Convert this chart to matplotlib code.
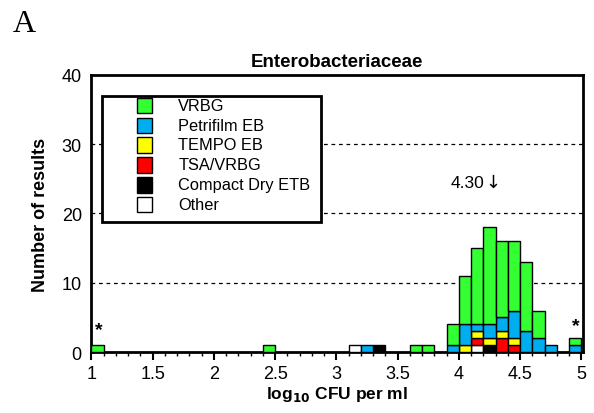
import matplotlib
matplotlib.use('Agg')
import matplotlib.pyplot as plt
from matplotlib.patches import Rectangle
from matplotlib.ticker import MultipleLocator
import numpy as np

plt.rcParams['font.family'] = ['Liberation Sans', 'DejaVu Sans']

# left edge of each occupied 0.1 log bin
bins = [1.0, 2.4, 3.1, 3.2, 3.3, 3.6, 3.7, 3.9, 4.0, 4.1, 4.2, 4.3, 4.4, 4.5, 4.6, 4.7, 4.9]

# counts per method, stacked bottom -> top
other     = [0, 0, 1, 0, 0, 0, 0, 0, 0, 1, 0, 0, 0, 0, 0, 0, 0]
compact   = [0, 0, 0, 0, 1, 0, 0, 0, 0, 0, 1, 0, 0, 0, 0, 0, 0]
tsa_vrbg  = [0, 0, 0, 0, 0, 0, 0, 0, 0, 1, 0, 2, 1, 0, 0, 0, 0]
tempo     = [0, 0, 0, 0, 0, 0, 0, 0, 1, 1, 1, 1, 1, 0, 0, 0, 0]
petrifilm = [0, 0, 0, 1, 0, 0, 0, 1, 3, 1, 2, 2, 4, 3, 2, 1, 1]
vrbg      = [1, 1, 0, 0, 0, 1, 1, 3, 7, 11, 14, 11, 10, 10, 4, 0, 1]

series = [
    ('Other', other, 'white'),
    ('Compact Dry ETB', compact, 'black'),
    ('TSA/VRBG', tsa_vrbg, '#FF0000'),
    ('TEMPO EB', tempo, '#FFFF00'),
    ('Petrifilm EB', petrifilm, '#00AEEF'),
    ('VRBG', vrbg, '#33FF33'),
]
legend_order = ['VRBG', 'Petrifilm EB', 'TEMPO EB', 'TSA/VRBG', 'Compact Dry ETB', 'Other']

fig = plt.figure(figsize=(5.94, 4.14), dpi=100)
ax = fig.add_axes([0.154, 0.147, 0.827, 0.670])

bottom = np.zeros(len(bins))
colors = {}
for name, vals, col in series:
    vals = np.array(vals)
    mask = vals > 0
    ax.bar(np.array(bins)[mask], vals[mask], width=0.1, align='edge',
           bottom=bottom[mask], color=col, edgecolor='black', linewidth=1, zorder=3)
    bottom += vals
    colors[name] = col

ax.set_xlim(1, 5.01)
ax.set_ylim(0, 40)
ax.set_yticks([0, 10, 20, 30, 40])
ax.set_xticks(np.arange(1, 5.01, 0.5))
ax.set_xticklabels(['1', '1.5', '2', '2.5', '3', '3.5', '4', '4.5', '5'])
ax.xaxis.set_minor_locator(MultipleLocator(0.1))
ax.tick_params(axis='x', which='major', direction='out', length=6, width=1.5, labelsize=13, pad=3)
ax.tick_params(axis='x', which='minor', direction='out', length=3, width=1)
ax.tick_params(axis='y', length=0, labelsize=13, pad=7)
for s in ax.spines.values():
    s.set_linewidth(2)

for yv in [10, 20, 30]:
    ax.axhline(yv, color='black', linestyle=(0, (3, 3)), linewidth=0.9, zorder=1)

ax.set_title('Enterobacteriaceae', fontsize=13.5, fontweight='bold', pad=6)
ax.set_ylabel('Number of results', fontsize=13, fontweight='bold', labelpad=9)
ax.set_xlabel('log$_{\\mathbf{10}}$ CFU per ml', fontsize=12.5, fontweight='bold', labelpad=2)

ax.text(1.057, 3.3, '*', fontsize=14, fontweight='bold', ha='center', va='center')
ax.text(4.95, 3.9, '*', fontsize=14, fontweight='bold', ha='center', va='center')
ax.text(4.205, 24.5, '4.30', fontsize=12.5, ha='right', va='center')
ax.text(4.215, 24.6, '\u2193', fontsize=13, family='DejaVu Sans', ha='left', va='center')

# legend box drawn in axes coordinates
tr = ax.transAxes
ax.add_patch(Rectangle((0.0208, 0.4705), 0.4458, 0.4515, transform=tr, facecolor='white',
                       edgecolor='black', linewidth=2, zorder=5))
row_y = [0.8886, 0.8166, 0.7471, 0.6750, 0.6030, 0.5321]
sq_w, sq_h = 0.032, 0.056
for name, yc in zip(legend_order, row_y):
    ax.add_patch(Rectangle((0.092, yc - sq_h / 2), sq_w, sq_h, transform=tr,
                           facecolor=colors[name], edgecolor='black', linewidth=1, zorder=6))
    ax.text(0.1767, yc, name, transform=tr, fontsize=11.8, ha='left', va='center', zorder=6)

fig.text(0.022, 0.923, 'A', fontsize=23, family='Liberation Serif', ha='left', va='baseline')

fig.savefig('out.png', dpi=100)
